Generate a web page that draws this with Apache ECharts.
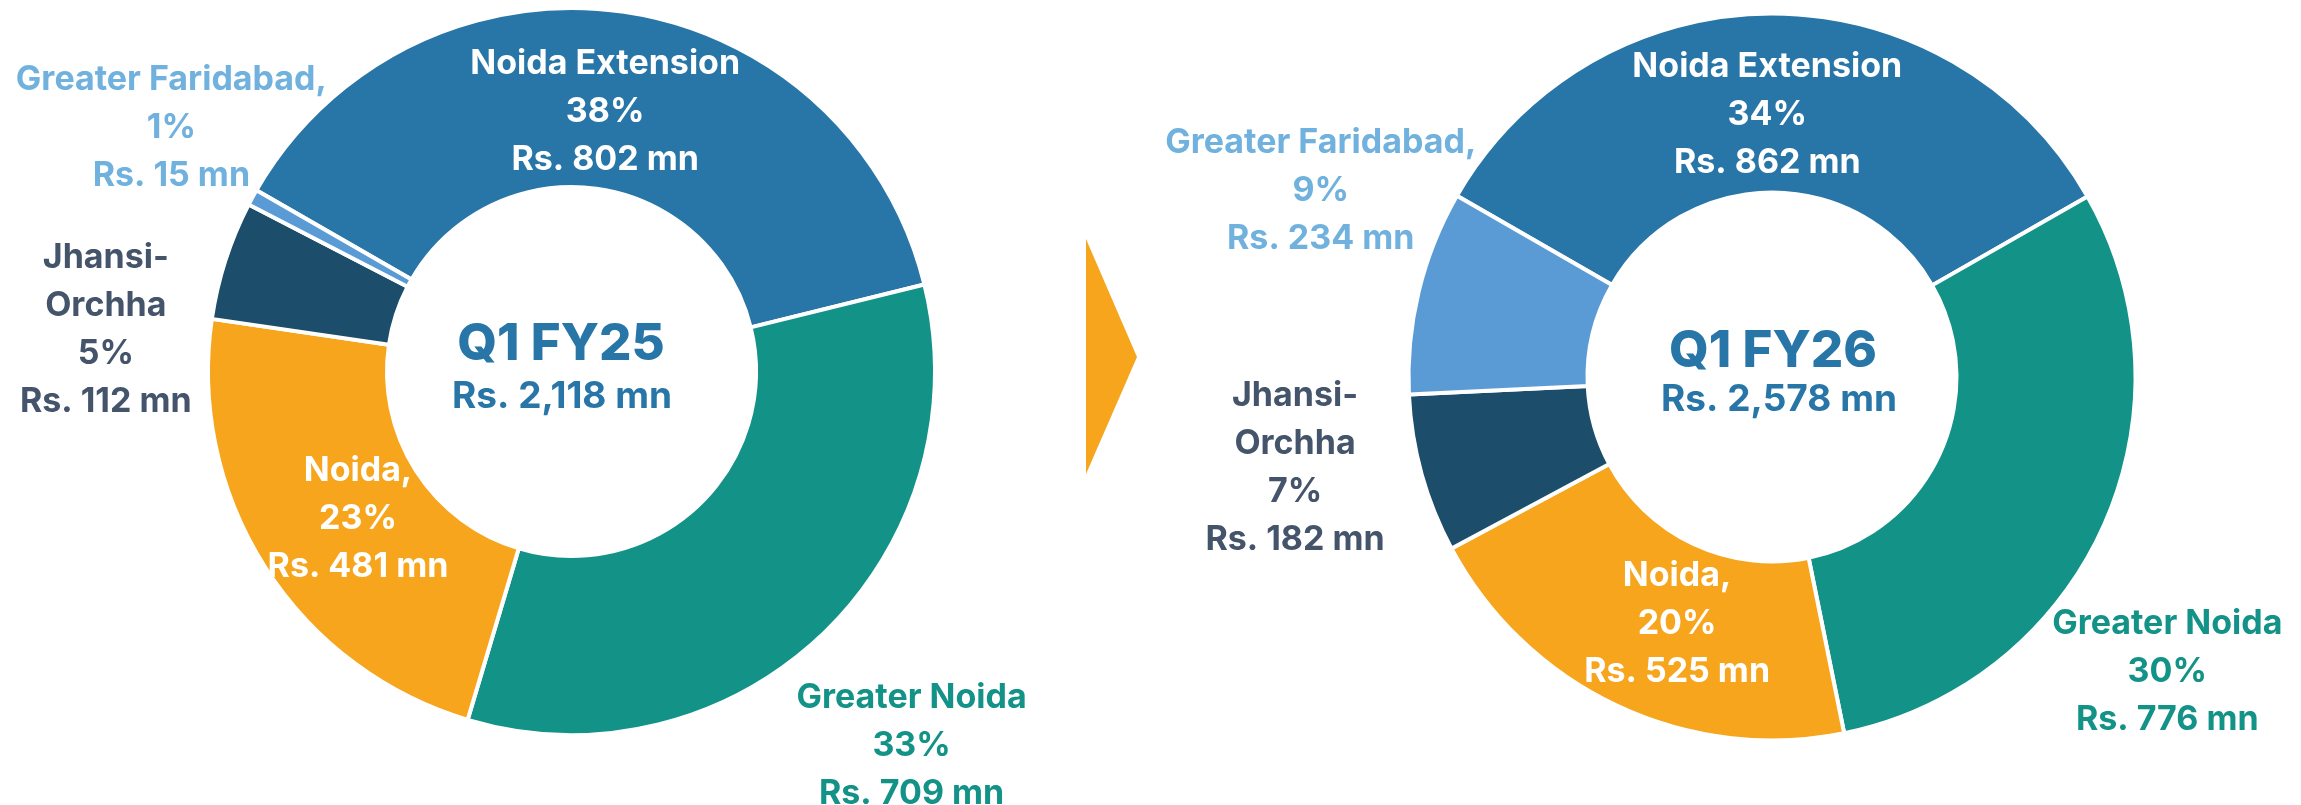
<!DOCTYPE html>
<html><head><meta charset="utf-8">
<script src="https://cdn.jsdelivr.net/npm/echarts@6/dist/echarts.min.js"></script>
<style>html,body{margin:0;padding:0;background:#fff}#c{width:2301px;height:805px}</style>
</head><body><div id="c"></div>
<script>
// ---- data ----
const regions = ['Noida Extension', 'Greater Noida', 'Noida,', 'Jhansi-\nOrchha', 'Greater Faridabad,'];
const valuesFY25 = [802, 709, 481, 112, 15];
const pctFY25 = ['38%', '33%', '23%', '5%', '1%'];
const valuesFY26 = [862, 776, 525, 182, 234];
const pctFY26 = ['34%', '30%', '20%', '7%', '9%'];
const periods = ['Q1 FY25', 'Q1 FY26'];
const totals = ['Rs. 2,118 mn', 'Rs. 2,578 mn'];

// ---- style ----
const FONT = 'Inter, "Open Sans", sans-serif';
const sliceColors = ['#2876A7', '#139288', '#F6A51D', '#1C4D6A', '#5B9BD5'];
const labelColors = ['#ffffff', '#139288', '#ffffff', '#44546A', '#70B1DE'];
const offsets25 = [[-5, 15], [149, 174], [20, -2], [-202, 43], [-157, -111]];
const offsets26 = [[-5, 15], [143, 180], [23, -4], [-210, 17], [-182, -121]];

function buildSeries(values, pcts, center, offsets) {
  return {
    type: 'pie',
    center: center,
    radius: [184.5, 363.5],
    startAngle: 150.1,
    clockwise: true,
    avoidLabelOverlap: false,
    animation: false,
    itemStyle: { borderColor: '#ffffff', borderWidth: 4 },
    label: {
      show: true,
      position: 'inside',
      fontFamily: FONT,
      fontWeight: 700,
      fontSize: 34,
      lineHeight: 48,
      align: 'center',
      formatter: p => p.name + '\n' + pcts[p.dataIndex] + '\n' + 'Rs. ' + p.value + ' mn'
    },
    labelLine: { show: false },
    labelLayout: p => ({ dx: offsets[p.dataIndex][0], dy: offsets[p.dataIndex][1] }),
    emphasis: { disabled: true },
    data: values.map((v, i) => ({
      value: v,
      name: regions[i],
      itemStyle: { color: sliceColors[i] },
      label: { color: labelColors[i] }
    }))
  };
}

const chart = echarts.init(document.getElementById('c'), null, { renderer: 'canvas' });
chart.setOption({
  backgroundColor: '#ffffff',
  series: [
    buildSeries(valuesFY25, pctFY25, [571.5, 371.5], offsets25),
    buildSeries(valuesFY26, pctFY26, [1772, 377], offsets26)
  ],
  graphic: [
    { type: 'text', x: 561, y: 345, style: { text: periods[0], fill: '#2876A7', font: '800 51px ' + FONT, textAlign: 'center', textVerticalAlign: 'middle' } },
    { type: 'text', x: 562, y: 397, style: { text: totals[0], fill: '#2876A7', font: '700 37px ' + FONT, textAlign: 'center', textVerticalAlign: 'middle' } },
    { type: 'text', x: 1773, y: 352, style: { text: periods[1], fill: '#2876A7', font: '800 51px ' + FONT, textAlign: 'center', textVerticalAlign: 'middle' } },
    { type: 'text', x: 1779, y: 400, style: { text: totals[1], fill: '#2876A7', font: '700 37px ' + FONT, textAlign: 'center', textVerticalAlign: 'middle' } },
    { type: 'polygon', shape: { points: [[1086, 239], [1137, 357], [1086, 474]] }, style: { fill: '#F6A51D' } }
  ]
});
</script>
</body></html>
